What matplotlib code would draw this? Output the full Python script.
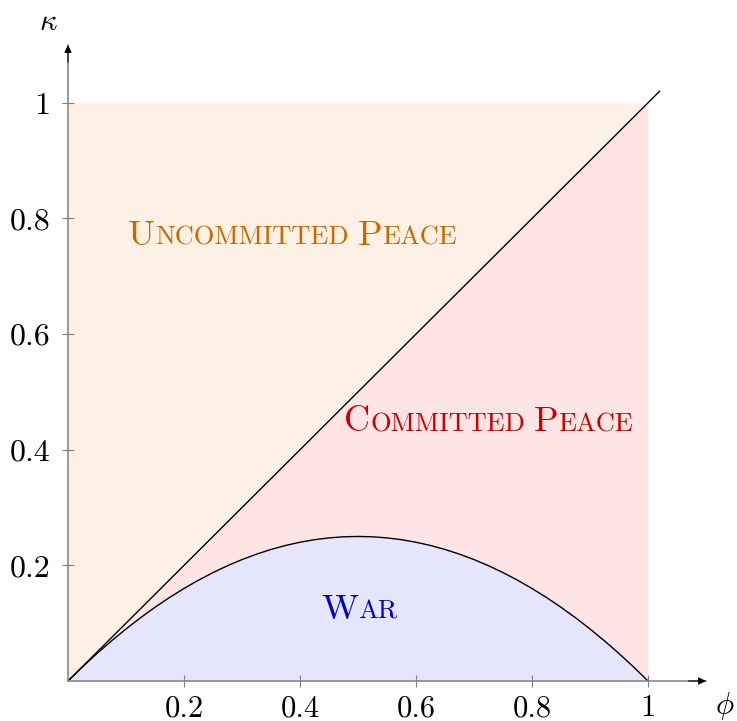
import numpy as np
import matplotlib
matplotlib.use("Agg")
import matplotlib.pyplot as plt
from matplotlib.offsetbox import TextArea, HPacker, AnnotationBbox

plt.rcParams['font.family'] = 'serif'
plt.rcParams['font.serif'] = ['cmr10', 'DejaVu Serif']
plt.rcParams['mathtext.fontset'] = 'cm'
plt.rcParams['axes.unicode_minus'] = False

# boundary curve kappa(phi), read at steps of 0.025
phi = [0.0, 0.025, 0.05, 0.075, 0.1, 0.125, 0.15, 0.175, 0.2, 0.225,
       0.25, 0.275, 0.3, 0.325, 0.35, 0.375, 0.4, 0.425, 0.45, 0.475,
       0.5, 0.525, 0.55, 0.575, 0.6, 0.625, 0.65, 0.675, 0.7, 0.725,
       0.75, 0.775, 0.8, 0.825, 0.85, 0.875, 0.9, 0.925, 0.95, 0.975, 1.0]
kappa = [0.0, 0.0244, 0.0475, 0.0694, 0.09, 0.1094, 0.1275, 0.1444, 0.16, 0.1744,
         0.1875, 0.1994, 0.21, 0.2194, 0.2275, 0.2344, 0.24, 0.2444, 0.2475, 0.2494,
         0.25, 0.2494, 0.2475, 0.2444, 0.24, 0.2344, 0.2275, 0.2194, 0.21, 0.1994,
         0.1875, 0.1744, 0.16, 0.1444, 0.1275, 0.1094, 0.09, 0.0694, 0.0475, 0.0244, 0.0]
diag_x = [0.0, 1.02]
diag_y = [0.0, 1.02]

ticks = [0.2, 0.4, 0.6, 0.8, 1.0]
tick_labels = ['0.2', '0.4', '0.6', '0.8', '1']

regions = [
    ('Uncommitted Peace', (0.387, 0.77), '#cc6600'),
    ('Committed Peace', (0.725, 0.447), '#cc0000'),
    ('War', (0.502, 0.123), '#0000cc'),
]

c_unc = '#fdf1e5'
c_com = '#fde5e5'
c_war = '#e5e5fc'
axis_gray = '#808080'

fig = plt.figure(figsize=(7.37, 7.21), dpi=100)
ax = fig.add_axes([68 / 737, 40 / 721, 638 / 737, 636 / 721])
ax.set_xlim(0, 1.1)
ax.set_ylim(0, 1.1)

ph = np.array(phi)
kp = np.array(kappa)
ax.fill_between([0, 1], [0, 1], [1, 1], color=c_unc, lw=0, zorder=0)
ax.fill_between(ph, kp, ph, color=c_com, lw=0, zorder=0)
ax.fill_between(ph, 0, kp, color=c_war, lw=0, zorder=0)

ax.plot(diag_x, diag_y, color='black', lw=1.0, zorder=3)
ax.plot(ph, kp, color='black', lw=1.0, zorder=3)

for s in ['top', 'right']:
    ax.spines[s].set_visible(False)
for s in ['left', 'bottom']:
    ax.spines[s].set_color(axis_gray)
    ax.spines[s].set_linewidth(1.1)
    ax.spines[s].set_zorder(4)

ax.set_xticks(ticks)
ax.set_xticklabels(tick_labels)
ax.set_yticks(ticks)
ax.set_yticklabels(tick_labels)
ax.tick_params(direction='inout', length=8, width=0.8, color=axis_gray)
ax.tick_params(axis='y', pad=8.5, labelsize=23)
ax.tick_params(axis='x', pad=6, labelsize=22)

# arrow heads on both axes
ax.annotate('', xy=(1.1, 0), xytext=(1.07, 0), xycoords='data',
            arrowprops=dict(arrowstyle='-|>', color='black', lw=0.8,
                            mutation_scale=11, shrinkA=0, shrinkB=0),
            annotation_clip=False, zorder=5)
ax.annotate('', xy=(0, 1.1), xytext=(0, 1.07), xycoords='data',
            arrowprops=dict(arrowstyle='-|>', color='black', lw=0.8,
                            mutation_scale=11, shrinkA=0, shrinkB=0),
            annotation_clip=False, zorder=5)

ax.text(-0.034, 1.14, r'$\kappa$', fontsize=22, ha='center', va='center',
        clip_on=False)
ax.text(1.132, -0.043, r'$\phi$', fontsize=22, ha='center', va='center',
        clip_on=False)


def small_caps(text, color, big=26, small=19):
    parts = []
    for word in text.split(' '):
        parts.append(TextArea(word[0], textprops=dict(size=big, color=color)))
        if len(word) > 1:
            parts.append(TextArea(word[1:].upper(),
                                  textprops=dict(size=small, color=color)))
        parts.append(TextArea(' ', textprops=dict(size=small, color=color)))
    return HPacker(children=parts[:-1], align='baseline', pad=0, sep=0)


for label, pos, col in regions:
    box = small_caps(label, col)
    ab = AnnotationBbox(box, pos, xycoords='data', frameon=False,
                        box_alignment=(0.5, 0.5), pad=0)
    ax.add_artist(ab)

fig.savefig('out.png', dpi=100)
